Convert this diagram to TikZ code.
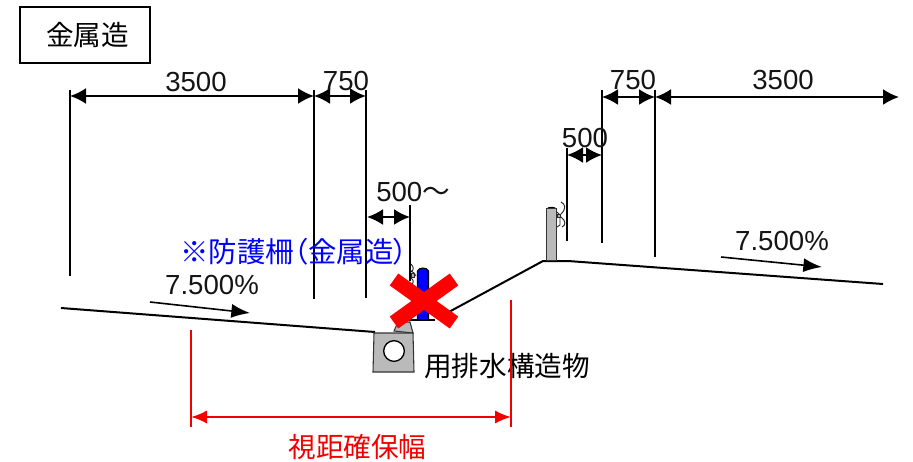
\documentclass[tikz,border=0pt]{standalone}
\usepackage{fontspec}
\setmainfont{Liberation Sans}
\newfontfamily\cjk{Noto Sans CJK JP}
\newfontfamily\cjkp[RawFeature=+palt]{Noto Sans CJK JP}
\usetikzlibrary{arrows.meta}
\tikzset{
 txt/.style={inner sep=0pt,font=\fontsize{20.7}{24}\selectfont,text=black!92},
 cj/.style={inner sep=0pt,font=\fontsize{20.7}{24}\selectfont\cjk,text=black},
 dim/.style={line width=1.6pt,{Latex[length=12pt,width=12pt]}-{Latex[length=12pt,width=12pt]}},
 ext/.style={line width=1.6pt},
 extb/.style={line width=2.2pt},
 ground/.style={line width=1.5pt},
 slope/.style={line width=1.2pt,-{Latex[length=14pt,width=10.5pt]}},
 rdim/.style={line width=1.6pt,red!95!black},
 pgray/.style={fill=black!27,draw=black!80,line width=.8pt},
 fence/.style={line width=.7pt,draw=black!85},
}
\begin{document}
\begin{tikzpicture}[x=.75pt,y=-.75pt]
\useasboundingbox (0,0) rectangle (913,461);
% title
\node[draw,line width=1.3pt,minimum width=129bp*.75,minimum height=56bp*.75,inner sep=0pt] (tbox) at (85,35) {};
\node[cj] (ttl) at (87.5,35) {金属造};
% extension lines
\foreach \n/\x/\a/\b/\s in {a/70/90/276/ext,b/314/90/299/extb,c/366/90/298/ext,d/410/205/281/ext,e/567/148/241/extb,f/602/90/243/extb,g/655/90/257/ext}{
 \coordinate (\n1) at (\x,\a); \coordinate (\n2) at (\x,\b);
 \draw[\s] (\n1) -- (\n2);
}
% dims
\coordinate (A1) at (70,96); \coordinate (A2) at (314,96); \coordinate (A3) at (366,96);
\draw[dim] (A1) -- (A2); \draw[dim] (A2) -- (A3);
\coordinate (B1) at (602,97); \coordinate (B2) at (655,97); \coordinate (B3) at (899,97);
\draw[dim] (B1) -- (B2); \draw[dim] (B2) -- (B3);
\coordinate (C1) at (567,155); \coordinate (C2) at (602,155);
\draw[dim] (C1) -- (C2);
\coordinate (D1) at (367,217); \coordinate (D2) at (410,217);
\draw[dim] (D1) -- (D2);
\node[txt] (t1) at (196,82) {3500};
\node[txt] (t2) at (346,81) {750};
\node[txt] (t3) at (633,80) {750};
\node[txt] (t4) at (783,80) {3500};
\node[txt] (t5) at (585,138) {500};
\node[txt,anchor=west] (t6) at (376,192) {500{\cjk ～}};
% ground
\coordinate (g1) at (61,308); \coordinate (g2) at (375,332);
\coordinate (g3) at (447,313); \coordinate (g4) at (543,261); \coordinate (g5) at (568,261); \coordinate (g6) at (883,284);
\draw[ground] (g1) -- (g2);
\draw[ground] (g3) -- (g4) -- (g5) -- (g6);
% right post
\fill[black] (546,209) .. controls (548,206) and (555,206) .. (557,209) -- cycle;
\draw[pgray] (546.5,208.5) rectangle (556.5,260.5);
\draw[fence] (557,212) -- (560,215) (560,215) -- (560,225) -- (557,227);
\draw[fence,fill=black!30] (557,214.5) rectangle (560,217.5);
\draw[fence] (561,202) .. controls (565,204) and (567,208) .. (561,214);
\draw[fence] (561,217) .. controls (566,221) and (566,225) .. (562,227);
% left structure
\draw[pgray] (394,331) -- (398,322) -- (410,322) -- (413,333) -- cycle;
\draw[pgray] (374,333) -- (413,333) -- (414,372) -- (373,372) -- cycle;
\node[circle,draw=black,line width=1pt,fill=white,minimum size=15.5pt,inner sep=0pt] (hole) at (394,351) {};
% blue post
\fill[blue,draw=black,line width=.8pt] (417.5,320) -- (417.5,271) .. controls (419,267) and (427,267) .. (428.5,271) -- (428.5,320) -- cycle;
\draw[line width=1.6pt] (408,320) -- (435,320);
\draw[fence] (410,270) -- (414,273) (414,273) -- (416,276);
\draw[fence,fill=black!30] (411,273) rectangle (414,277);
\draw[fence] (411,264) .. controls (414,267) and (414,270) .. (411,272);
\draw[fence] (411,278) .. controls (414,280) and (414,283) .. (411,285);
% red cross
\coordinate (x1) at (394,279.5); \coordinate (x2) at (454,322.5); \coordinate (x3) at (454,279.5); \coordinate (x4) at (394,322.5);
\draw[red,line width=11pt] (x1) -- (x2);
\draw[red,line width=11pt] (x3) -- (x4);
% slopes
\coordinate (s1) at (150,302); \coordinate (s2) at (250,313);
\draw[slope] (s1) -- (s2);
\coordinate (s3) at (721,257); \coordinate (s4) at (822,267);
\draw[slope] (s3) -- (s4);
\node[txt] (p1) at (212,285) {7.500\%};
\node[txt] (p2) at (782,241) {7.500\%};
% labels
\node[cj,text=blue,font=\fontsize{21.3}{24}\selectfont\cjkp] (fen) at (294,252) {※防護柵（金属造）};
\node[cj,anchor=west] (drain) at (424,366) {用排水構造物};
% red dim
\coordinate (r1) at (191,330); \coordinate (r2) at (191,427);
\coordinate (r3) at (511,300); \coordinate (r4) at (511,427);
\draw[rdim] (r1) -- (r2); \draw[rdim] (r3) -- (r4);
\coordinate (r5) at (191,417); \coordinate (r6) at (511,417);
\draw[rdim,{Latex[length=12pt,width=10pt]}-{Latex[length=12pt,width=10pt]}] (r5) -- (r6);
\node[cj,text=red!95!black] (w) at (357.5,447) {視距確保幅};
\end{tikzpicture}
\end{document}
